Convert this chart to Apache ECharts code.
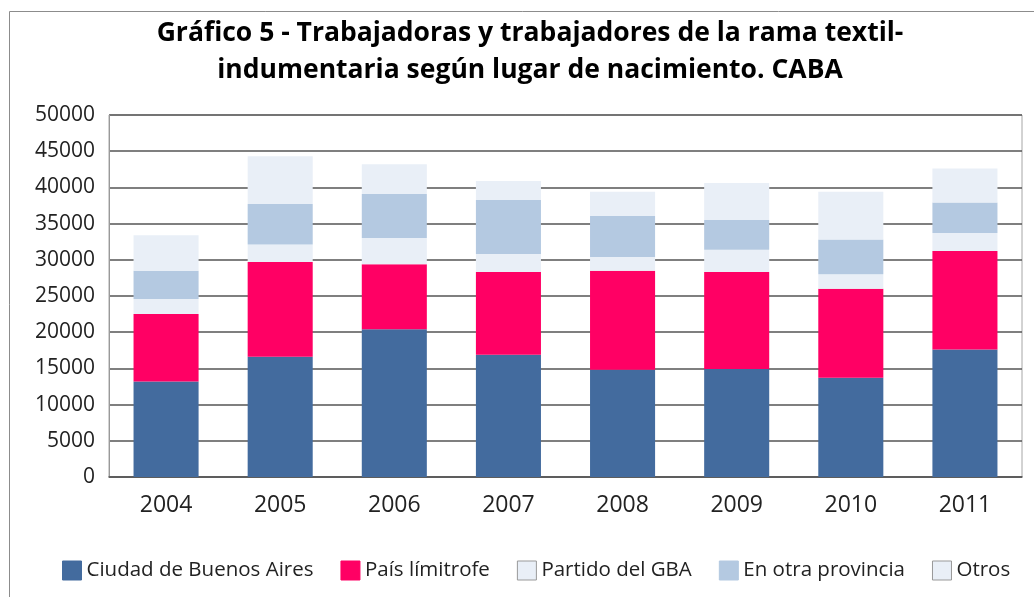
<!DOCTYPE html>
<html>
<head>
<meta charset="utf-8">
<script src="https://cdn.jsdelivr.net/npm/echarts@6/dist/echarts.min.js"></script>
<style>
  html, body { margin: 0; padding: 0; background: #fff; }
  #chart { width: 1034px; height: 597px; }
</style>
</head>
<body>
<div id="chart"></div>
<script>
// años
var years = ['2004', '2005', '2006', '2007', '2008', '2009', '2010', '2011']
// lugar de nacimiento
var ciudad = [13200, 16600, 20400, 16900, 14800, 14900, 13700, 17600]
var limitrofe = [9300, 13100, 9000, 11400, 13700, 13400, 12300, 13600]
var partidoGba = [2100, 2400, 3600, 2500, 1900, 3100, 2000, 2500]
var otraProvincia = [3900, 5600, 6100, 7500, 5700, 4100, 4800, 4200]
var otros = [4900, 6600, 4100, 2600, 3300, 5100, 6600, 4700]

var names = ['Ciudad de Buenos Aires', 'País límitrofe', 'Partido del GBA', 'En otra provincia', 'Otros']
var colors = ['#436b9e', '#ff0064', '#e9eff7', '#b4c9e1', '#e9eff7']
var values = [ciudad, limitrofe, partidoGba, otraProvincia, otros]

var font = '"Open Sans", "Noto Sans", sans-serif'

var series = names.map(function (name, i) {
  return {
    name: name,
    type: 'bar',
    stack: 'total',
    barCategoryGap: '43%',
    data: values[i],
    itemStyle: { color: colors[i] },
    emphasis: { disabled: true }
  }
})

var option = {
  animation: false,
  title: {
    text: 'Gráfico 5 - Trabajadoras y trabajadores de la rama textil-\nindumentaria según lugar de nacimiento. CABA',
    left: 530,
    top: 15,
    padding: 0,
    textAlign: 'center',
    textStyle: {
      fontFamily: font,
      fontWeight: 'bold',
      fontSize: 26.5,
      lineHeight: 37,
      color: '#000',
      align: 'center'
    }
  },
  legend: {
    left: 57,
    top: 555,
    itemWidth: 19,
    itemHeight: 19,
    itemGap: 27,
    icon: 'rect',
    data: names.map(function (n, i) {
      return {
        name: n,
        itemStyle: { color: colors[i], borderColor: i === 2 || i === 4 ? '#999' : colors[i], borderWidth: 1 }
      }
    }),
    textStyle: { fontFamily: font, fontSize: 20.5, color: '#222' }
  },
  grid: {
    left: 109,
    right: 12,
    top: 115,
    bottom: 120,
    show: true,
    borderColor: '#a6a6a6',
    borderWidth: 1
  },
  xAxis: {
    type: 'category',
    data: years,
    axisTick: { show: false },
    axisLine: { lineStyle: { color: '#555', width: 1.5 } },
    axisLabel: { fontFamily: font, fontSize: 23, color: '#222', margin: 17 }
  },
  yAxis: {
    type: 'value',
    min: 0,
    max: 50000,
    interval: 5000,
    axisLine: { show: true, lineStyle: { color: '#999' } },
    axisTick: { show: false },
    axisLabel: {
      fontFamily: font, fontSize: 21, color: '#222', margin: 14,
      formatter: function (v) { return String(v) }
    },
    splitLine: { lineStyle: { color: '#555', width: 1.5 } }
  },
  graphic: [
    {
      type: 'rect',
      shape: { x: 9.5, y: 11.5, width: 1040, height: 600 },
      style: { fill: 'none', stroke: '#8c8c8c', lineWidth: 1 },
      silent: true,
      z: -1
    }
  ],
  series: series
}

var myChart = echarts.init(document.getElementById('chart'))
myChart.setOption(option)
</script>
</body>
</html>
